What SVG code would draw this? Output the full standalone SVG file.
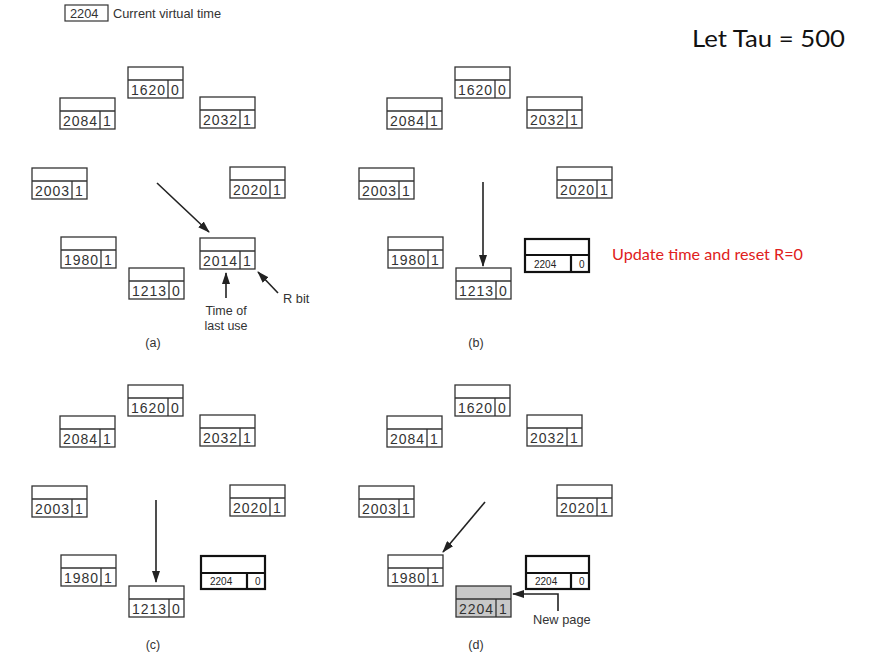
<svg xmlns="http://www.w3.org/2000/svg" width="884" height="663" viewBox="0 0 884 663">
<style>
.bx{fill:#fff;stroke:#333;stroke-width:1.3}
.gr{fill:#c8c8c8;stroke:#333;stroke-width:1.3}
.bd{fill:#fff;stroke:#111;stroke-width:2.2}
.ln{fill:none;stroke:#333;stroke-width:1.3}
.lb{fill:none;stroke:#111;stroke-width:2.2}
.num{font-family:"Liberation Sans",Arial,sans-serif;font-size:14px;fill:#333;letter-spacing:1px}
.sm{font-family:"Liberation Sans",Arial,sans-serif;font-size:10px;fill:#222}
.lab{font-family:"Liberation Sans",Arial,sans-serif;font-size:12.8px;fill:#333}
.cap{font-family:"Liberation Sans",Arial,sans-serif;font-size:12.5px;fill:#333;text-anchor:middle}
.arr{fill:none;stroke:#222;stroke-width:1.6}
</style>
<defs>
<marker id="ah" markerUnits="userSpaceOnUse" markerWidth="12" markerHeight="8" refX="11" refY="4" orient="auto">
<path d="M0,0 L12,4 L0,8 z" fill="#222"/>
</marker>
</defs>
<rect width="884" height="663" fill="#fff"/>

<g id="legend">
<rect x="65" y="5" width="43" height="16" fill="#fff" stroke="#333" stroke-width="1.2"/>
<text x="70" y="18" class="lab">2204</text>
<text x="113" y="18" class="lab">Current virtual time</text>
</g>
<text id="tau" x="692" y="47" font-family="Lato,'Open Sans',sans-serif" font-size="24" fill="#111" textLength="153" lengthAdjust="spacingAndGlyphs">Let Tau = 500</text>

<!-- Panel a -->
<g id="a-1620" transform="translate(128,67)"><rect class="bx" width="55" height="31"/><path class="ln" d="M0,13H55M40,13V31"/><text class="num" x="3" y="28">1620</text><text class="num" x="43" y="28">0</text></g>
<g id="a-2084" transform="translate(60,98)"><rect class="bx" width="55" height="31"/><path class="ln" d="M0,13H55M40,13V31"/><text class="num" x="3" y="28">2084</text><text class="num" x="43" y="28">1</text></g>
<g id="a-2032" transform="translate(200,97)"><rect class="bx" width="55" height="31"/><path class="ln" d="M0,13H55M40,13V31"/><text class="num" x="3" y="28">2032</text><text class="num" x="43" y="28">1</text></g>
<g id="a-2003" transform="translate(32,168)"><rect class="bx" width="55" height="31"/><path class="ln" d="M0,13H55M40,13V31"/><text class="num" x="3" y="28">2003</text><text class="num" x="43" y="28">1</text></g>
<g id="a-2020" transform="translate(230,167)"><rect class="bx" width="55" height="31"/><path class="ln" d="M0,13H55M40,13V31"/><text class="num" x="3" y="28">2020</text><text class="num" x="43" y="28">1</text></g>
<g id="a-2014" transform="translate(200,238)"><rect class="bx" width="55" height="31"/><path class="ln" d="M0,13H55M40,13V31"/><text class="num" x="3" y="28">2014</text><text class="num" x="43" y="28">1</text></g>
<g id="a-1980" transform="translate(61,237)"><rect class="bx" width="55" height="31"/><path class="ln" d="M0,13H55M40,13V31"/><text class="num" x="3" y="28">1980</text><text class="num" x="43" y="28">1</text></g>
<g id="a-1213" transform="translate(129,268)"><rect class="bx" width="55" height="31"/><path class="ln" d="M0,13H55M40,13V31"/><text class="num" x="3" y="28">1213</text><text class="num" x="43" y="28">0</text></g>
<text class="cap" x="226" y="315">Time of</text>
<text class="cap" x="226" y="330">last use</text>
<text class="lab" x="283" y="303">R bit</text>
<text class="cap" x="153" y="347">(a)</text>

<!-- Panel b -->
<g id="b-1620" transform="translate(455,67)"><rect class="bx" width="55" height="31"/><path class="ln" d="M0,13H55M40,13V31"/><text class="num" x="3" y="28">1620</text><text class="num" x="43" y="28">0</text></g>
<g id="b-2084" transform="translate(387,98)"><rect class="bx" width="55" height="31"/><path class="ln" d="M0,13H55M40,13V31"/><text class="num" x="3" y="28">2084</text><text class="num" x="43" y="28">1</text></g>
<g id="b-2032" transform="translate(527,97)"><rect class="bx" width="55" height="31"/><path class="ln" d="M0,13H55M40,13V31"/><text class="num" x="3" y="28">2032</text><text class="num" x="43" y="28">1</text></g>
<g id="b-2003" transform="translate(359,168)"><rect class="bx" width="55" height="31"/><path class="ln" d="M0,13H55M40,13V31"/><text class="num" x="3" y="28">2003</text><text class="num" x="43" y="28">1</text></g>
<g id="b-2020" transform="translate(557,167)"><rect class="bx" width="55" height="31"/><path class="ln" d="M0,13H55M40,13V31"/><text class="num" x="3" y="28">2020</text><text class="num" x="43" y="28">1</text></g>
<g id="b-2204" transform="translate(525,239)"><rect class="bd" width="64" height="33"/><path class="lb" d="M0,16H64M46,16V33"/><text class="sm" x="9" y="29">2204</text><text class="sm" x="54" y="29">0</text></g>
<g id="b-1980" transform="translate(388,237)"><rect class="bx" width="55" height="31"/><path class="ln" d="M0,13H55M40,13V31"/><text class="num" x="3" y="28">1980</text><text class="num" x="43" y="28">1</text></g>
<g id="b-1213" transform="translate(456,268)"><rect class="bx" width="55" height="31"/><path class="ln" d="M0,13H55M40,13V31"/><text class="num" x="3" y="28">1213</text><text class="num" x="43" y="28">0</text></g>
<text x="612" y="260" font-family="Lato,'Open Sans',sans-serif" font-size="16" fill="#e02020" textLength="191" lengthAdjust="spacingAndGlyphs">Update time and reset R=0</text>
<text class="cap" x="476" y="347">(b)</text>

<!-- Panel c -->
<g id="c-1620" transform="translate(128,385)"><rect class="bx" width="55" height="31"/><path class="ln" d="M0,13H55M40,13V31"/><text class="num" x="3" y="28">1620</text><text class="num" x="43" y="28">0</text></g>
<g id="c-2084" transform="translate(60,416)"><rect class="bx" width="55" height="31"/><path class="ln" d="M0,13H55M40,13V31"/><text class="num" x="3" y="28">2084</text><text class="num" x="43" y="28">1</text></g>
<g id="c-2032" transform="translate(200,415)"><rect class="bx" width="55" height="31"/><path class="ln" d="M0,13H55M40,13V31"/><text class="num" x="3" y="28">2032</text><text class="num" x="43" y="28">1</text></g>
<g id="c-2003" transform="translate(32,486)"><rect class="bx" width="55" height="31"/><path class="ln" d="M0,13H55M40,13V31"/><text class="num" x="3" y="28">2003</text><text class="num" x="43" y="28">1</text></g>
<g id="c-2020" transform="translate(230,485)"><rect class="bx" width="55" height="31"/><path class="ln" d="M0,13H55M40,13V31"/><text class="num" x="3" y="28">2020</text><text class="num" x="43" y="28">1</text></g>
<g id="c-2204" transform="translate(201,556)"><rect class="bd" width="64" height="33"/><path class="lb" d="M0,17H64M46,17V33"/><text class="sm" x="9" y="29">2204</text><text class="sm" x="54" y="29">0</text></g>
<g id="c-1980" transform="translate(61,555)"><rect class="bx" width="55" height="31"/><path class="ln" d="M0,13H55M40,13V31"/><text class="num" x="3" y="28">1980</text><text class="num" x="43" y="28">1</text></g>
<g id="c-1213" transform="translate(129,586)"><rect class="bx" width="55" height="31"/><path class="ln" d="M0,13H55M40,13V31"/><text class="num" x="3" y="28">1213</text><text class="num" x="43" y="28">0</text></g>
<text class="cap" x="153" y="649">(c)</text>

<!-- Panel d -->
<g id="d-1620" transform="translate(455,385)"><rect class="bx" width="55" height="31"/><path class="ln" d="M0,13H55M40,13V31"/><text class="num" x="3" y="28">1620</text><text class="num" x="43" y="28">0</text></g>
<g id="d-2084" transform="translate(387,416)"><rect class="bx" width="55" height="31"/><path class="ln" d="M0,13H55M40,13V31"/><text class="num" x="3" y="28">2084</text><text class="num" x="43" y="28">1</text></g>
<g id="d-2032" transform="translate(527,415)"><rect class="bx" width="55" height="31"/><path class="ln" d="M0,13H55M40,13V31"/><text class="num" x="3" y="28">2032</text><text class="num" x="43" y="28">1</text></g>
<g id="d-2003" transform="translate(359,486)"><rect class="bx" width="55" height="31"/><path class="ln" d="M0,13H55M40,13V31"/><text class="num" x="3" y="28">2003</text><text class="num" x="43" y="28">1</text></g>
<g id="d-2020" transform="translate(557,485)"><rect class="bx" width="55" height="31"/><path class="ln" d="M0,13H55M40,13V31"/><text class="num" x="3" y="28">2020</text><text class="num" x="43" y="28">1</text></g>
<g id="d-2204b" transform="translate(526,556)"><rect class="bd" width="63" height="33"/><path class="lb" d="M0,17H63M45,17V33"/><text class="sm" x="9" y="29">2204</text><text class="sm" x="53" y="29">0</text></g>
<g id="d-1980" transform="translate(388,555)"><rect class="bx" width="55" height="31"/><path class="ln" d="M0,13H55M40,13V31"/><text class="num" x="3" y="28">1980</text><text class="num" x="43" y="28">1</text></g>
<g id="d-2204" transform="translate(456,586)"><rect class="gr" width="55" height="31"/><path class="ln" d="M0,13H55M40,13V31"/><text class="num" x="3" y="28">2204</text><text class="num" x="43" y="28">1</text></g>
<text class="lab" x="533" y="624">New page</text>
<text class="cap" x="476" y="649">(d)</text>

<g id="connectors">
<line class="arr" x1="157" y1="183" x2="209" y2="232" marker-end="url(#ah)"/>
<line class="arr" x1="226" y1="298" x2="226" y2="273" marker-end="url(#ah)"/>
<line class="arr" x1="278" y1="293" x2="258" y2="272" marker-end="url(#ah)"/>
<line class="arr" x1="483" y1="182" x2="483" y2="266" marker-end="url(#ah)"/>
<line class="arr" x1="156" y1="500" x2="156" y2="582" marker-end="url(#ah)"/>
<line class="arr" x1="485" y1="502" x2="443" y2="552" marker-end="url(#ah)"/>
<polyline class="arr" points="558,611 558,594 513,594" marker-end="url(#ah)"/>
</g>
</svg>
